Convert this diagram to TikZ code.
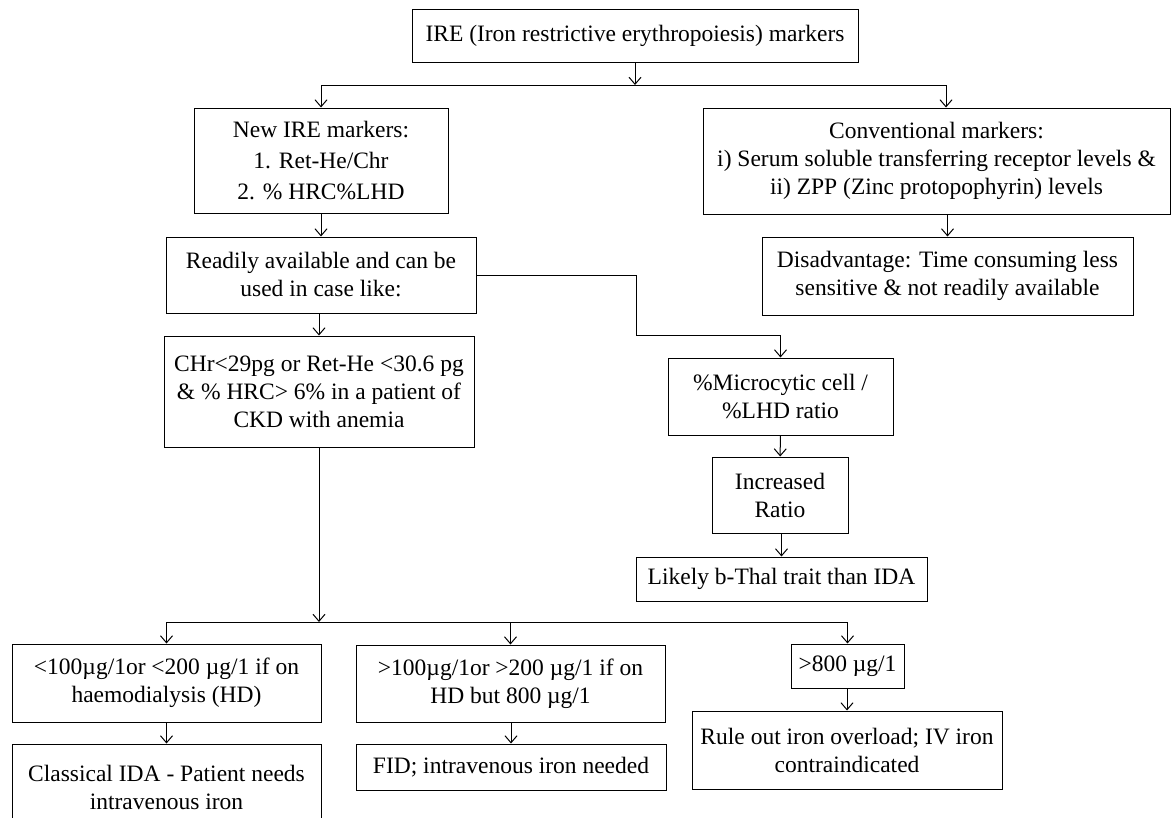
\documentclass[tikz,border=0pt]{standalone}
\usepackage{fontspec}
\setmainfont{Liberation Serif}
\usetikzlibrary{arrows.meta}
\tikzset{
  box/.style={draw,line width=1pt,align=center,inner sep=0pt,
    font=\fontsize{23.5}{28}\selectfont},
  link/.style={line width=1pt,-{Straight Barb[length=7pt,width=12pt]}},
  bar/.style={line width=1pt}
}
\begin{document}
\begin{tikzpicture}[x=1pt,y=-1pt]
  \useasboundingbox (0,0) rectangle (1173,817);
  \clip (0,0) rectangle (1173,817);
  %% boxes
  \node[box,minimum width=446,minimum height=53] (top) at (635,35.5)
    {IRE (Iron restrictive erythropoiesis) markers};
  \node[box,minimum width=254,minimum height=105,font=\fontsize{23.5}{31}\selectfont] (newire) at (321,160.5)
    {New IRE markers:\\ 1. Ret-He/Chr\\ 2. \% HRC\%LHD};
  \node[box,minimum width=467,minimum height=106] (conv) at (936.5,161)
    {Conventional markers:\\ i) Serum soluble transferring receptor levels \&\\ ii) ZPP (Zinc protopophyrin) levels};
  \node[box,minimum width=371,minimum height=78] (disadv) at (947.5,276)
    {Disadvantage: Time consuming less\\ sensitive \& not readily available};
  \node[box,minimum width=310,minimum height=76] (readily) at (321,275)
    {Readily available and can be\\ used in case like:};
  \node[box,minimum width=310,minimum height=111] (chr) at (319,391.5)
    {CHr<29pg or Ret-He <30.6 pg\\ \& \% HRC> 6\% in a patient of\\ CKD with anemia};
  \node[box,minimum width=225,minimum height=77] (micro) at (780.5,396.5)
    {\%Microcytic cell /\\ \%LHD ratio};
  \node[box,minimum width=136,minimum height=76] (incr) at (780,495)
    {Increased\\ Ratio};
  \node[box,minimum width=291,minimum height=44] (likely) at (781.5,579)
    {Likely b-Thal trait than IDA};
  \node[box,minimum width=309,minimum height=78] (low) at (166.5,683)
    {<100µg/1or <200 µg/1 if on\\ haemodialysis (HD)};
  \node[box,minimum width=309,minimum height=77] (mid) at (510.5,683.5)
    {>100µg/1or >200 µg/1 if on\\ HD but 800 µg/1};
  \node[box,minimum width=113,minimum height=44] (high) at (847.5,666)
    {>800 µg/1};
  \node[box,minimum width=309,minimum height=86] (classical) at (166.5,787)
    {Classical IDA - Patient needs\\ intravenous iron};
  \node[box,minimum width=310,minimum height=46] (fid) at (511,767)
    {FID; intravenous iron needed};
  \node[box,minimum width=310,minimum height=78] (ruleout) at (847,750)
    {Rule out iron overload; IV iron\\ contraindicated};
  %% split points
  \coordinate (split) at (635,85);
  \coordinate (splitL) at (321,85);
  \coordinate (splitR) at (946,85);
  \coordinate (bend) at (636,335);
  \coordinate (fork) at (319,622);
  \coordinate (forkL) at (166.5,622);
  \coordinate (forkR) at (847.5,622);
  %% top level
  \draw[link] (top) -- (split);
  \draw[bar] (splitL) -- (splitR);
  \draw[link] (splitL) -- (newire);
  \draw[link] (splitR) -- (splitR |- conv.north);
  \draw[link] (conv.south -| disadv) -- (disadv);
  %% left column
  \draw[link] (newire) -- (readily);
  \draw[link] (readily.south -| chr) -- (chr);
  %% ratio branch
  \draw[link] (readily.east) -| (bend) -| (micro.north);
  \draw[link] (micro) -- (incr);
  \draw[link] (incr.south -| likely) -- (likely);
  %% ferritin levels
  \draw[link] (chr) -- (fork);
  \draw[bar] (forkL) -- (forkR);
  \draw[link] (forkL) -- (low);
  \draw[link] (fork -| mid) -- (mid);
  \draw[link] (forkR) -- (high);
  \draw[link] (low) -- (classical);
  \draw[link] (mid.south -| fid) -- (fid);
  \draw[link] (high.south -| ruleout) -- (ruleout);
\end{tikzpicture}
\end{document}
